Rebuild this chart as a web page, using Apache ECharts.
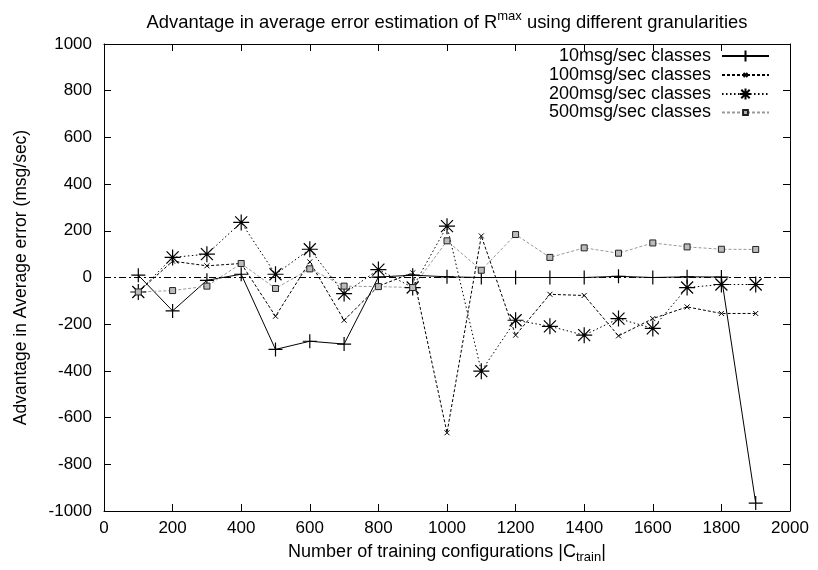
<!DOCTYPE html>
<html>
<head>
<meta charset="utf-8">
<script src="https://cdn.jsdelivr.net/npm/echarts@6/dist/echarts.min.js"></script>
<style>html,body{margin:0;padding:0;background:#fff}#c{width:818px;height:570px}</style>
</head>
<body>
<div id="c"></div>
<script>
var xValues = [100,200,300,400,500,600,700,800,900,1000,1100,1200,1300,1400,1500,1600,1700,1800,1900];
var s10  = [10,-143,-12,14,-308,-273,-285,2,10,3,0,0,0,0,5,0,3,2,-966];
var s100 = [-62,70,50,60,-166,67,-183,-37,20,-665,178,-247,-72,-77,-250,-176,-126,-154,-154];
var s200 = [-62,86,100,236,14,121,-69,34,-43,220,-401,-183,-209,-247,-176,-218,-43,-30,-30];
var s500 = [-62,-56,-37,60,-47,37,-37,-39,-43,157,31,184,86,127,104,148,131,121,120];
var seriesNames = ['10msg/sec classes','100msg/sec classes','200msg/sec classes','500msg/sec classes'];

var FONT = '"Liberation Sans", Arial, Helvetica, sans-serif';
function pairs(v){ return xValues.map(function(x,i){ return [x, v[i]]; }); }
function plain(v){ return String(v); }

var PLUS = 'path://M0,-1L0,1M-1,0L1,0';
var XMARK = 'path://M-1,-1L1,1M-1,1L1,-1';
var STAR = 'path://M0,-1L0,1M-1,0L1,0M-0.75,-0.75L0.75,0.75M-0.75,0.75L0.75,-0.75';

var chart = echarts.init(document.getElementById('c'), null, {renderer:'canvas'});
var axisCommon = {
  min:0, max:2000, interval:200,
  axisLine:{show:true, onZero:false, lineStyle:{color:'#000', width:1}},
  axisTick:{show:true, inside:true, length:7, lineStyle:{color:'#000'}},
  splitLine:{show:false}
};
function legendItem(name, top, h){
  return {
    data:[name], right:48, top:top, orient:'vertical', align:'right',
    itemWidth:47, itemHeight:h, padding:0,
    textStyle:{fontFamily:FONT, fontSize:18, color:'#000', padding:[0,6,0,0]},
    selectedMode:false
  };
}
var option = {
  backgroundColor:'#fff',
  animation:false,
  title:{
    text:'Advantage in average error estimation of R{sup|max} using different granularities',
    left:442, top:5, textAlign:'center',
    textStyle:{fontFamily:FONT, fontSize:18.4, fontWeight:'normal', color:'#000',
      rich:{sup:{fontFamily:FONT, fontSize:13, color:'#000', padding:[0,0,12,0]}}}
  },
  legend:[legendItem(seriesNames[0],47,14), legendItem(seriesNames[1],66,5), legendItem(seriesNames[2],85,14), legendItem(seriesNames[3],103.5,6)],
  grid:{left:104, right:28, top:44, bottom:59, outerBoundsMode:'none', containLabel:false},
  xAxis:[
    Object.assign({type:'value', position:'bottom',
      name:'Number of training configurations |C{sub|train}|', nameLocation:'middle', nameGap:30,
      nameTextStyle:{fontFamily:FONT, fontSize:18, color:'#000',
        rich:{sub:{fontFamily:FONT, fontSize:13, color:'#000', padding:[10,0,0,0]}}},
      axisLabel:{fontFamily:FONT, fontSize:17, color:'#000', margin:9, formatter:plain}}, axisCommon),
    Object.assign({type:'value', position:'top', axisLabel:{show:false}}, axisCommon)
  ],
  yAxis:[
    Object.assign({}, axisCommon, {type:'value', position:'left', min:-1000, max:1000, interval:200,
      name:'Advantage in Average error (msg/sec)', nameLocation:'middle', nameGap:74, nameRotate:90,
      nameTextStyle:{fontFamily:FONT, fontSize:17.5, color:'#000'},
      axisLabel:{fontFamily:FONT, fontSize:17, color:'#000', margin:12, formatter:plain}}),
    Object.assign({}, axisCommon, {type:'value', position:'right', min:-1000, max:1000, interval:200, axisLabel:{show:false}})
  ],
  series:[
    {name:seriesNames[0], type:'line', data:pairs(s10), symbol:PLUS, symbolSize:14,
     lineStyle:{color:'#000', width:1, type:'solid'},
     itemStyle:{color:'#000', borderColor:'#000', borderWidth:1.2},
     markLine:{silent:true, symbol:'none', label:{show:false}, animation:false,
       lineStyle:{color:'#000', width:1, type:[7,3,2,3]}, data:[{yAxis:0}]}},
    {name:seriesNames[1], type:'line', data:pairs(s100), symbol:XMARK, symbolSize:5,
     lineStyle:{color:'#000', width:1, type:[3,2]},
     itemStyle:{color:'#000', borderColor:'#000', borderWidth:1}},
    {name:seriesNames[2], type:'line', data:pairs(s200), symbol:STAR, symbolSize:16,
     lineStyle:{color:'#000', width:1, type:[1.5,2.5]},
     itemStyle:{color:'#000', borderColor:'#000', borderWidth:1.2}},
    {name:seriesNames[3], type:'line', data:pairs(s500), symbol:'rect', symbolSize:6,
     lineStyle:{color:'#999', width:1, type:[3,2]},
     itemStyle:{color:'#bbb', borderColor:'#222', borderWidth:1}}
  ]
};
chart.setOption(option);
</script>
</body>
</html>
